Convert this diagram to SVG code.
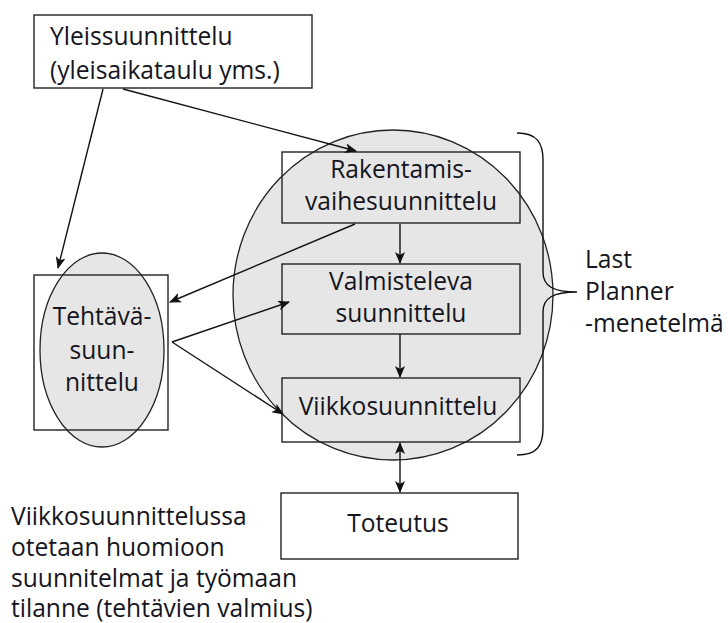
<svg xmlns="http://www.w3.org/2000/svg" width="728" height="623" viewBox="0 0 728 623">
<defs>
<marker id="ah" viewBox="0 0 12 10" refX="11" refY="5" markerWidth="12" markerHeight="10" markerUnits="userSpaceOnUse" orient="auto-start-reverse">
<path d="M0,0 L12,5 L0,10 L3,5 Z" fill="#111"/>
</marker>
</defs>
<style>
text{font-family:"Open Sans","Noto Sans","Liberation Sans",sans-serif;font-size:24.6px;fill:#151520}
.c{text-anchor:middle}
.box{fill:none;stroke:#222;stroke-width:1.4}
.wbox{fill:#fff;stroke:#222;stroke-width:1.4}
.sh{fill:#e6e6e6;stroke:#222;stroke-width:1.3}
.ln{fill:none;stroke:#111;stroke-width:1.4}
</style>
<rect width="728" height="623" fill="#fff"/>
<g id="lastplanner-circle"><ellipse class="sh" cx="393" cy="295" rx="160" ry="165"/></g>
<g id="yleis">
<rect class="wbox" x="34" y="15" width="278" height="73"/>
<text x="50" y="45">Yleissuunnittelu</text>
<text x="50" y="79">(yleisaikataulu yms.)</text>
</g>
<g id="tehtava">
<ellipse class="sh" cx="102" cy="350" rx="62" ry="97"/>
<rect class="box" x="34" y="275" width="134" height="155"/>
<text class="c" x="102" y="325">Tehtävä-</text>
<text class="c" x="102" y="359">suun-</text>
<text class="c" x="102" y="391">nittelu</text>
</g>
<g id="rakentamis">
<rect class="box" x="282" y="152" width="238" height="71"/>
<text class="c" x="401" y="178">Rakentamis-</text>
<text class="c" x="401" y="210">vaihesuunnittelu</text>
</g>
<g id="valmisteleva">
<rect class="box" x="282" y="264" width="238" height="70"/>
<text class="c" x="401" y="290">Valmisteleva</text>
<text class="c" x="401" y="322">suunnittelu</text>
</g>
<g id="viikko">
<rect class="box" x="282" y="378" width="238" height="64"/>
<text class="c" x="398" y="415">Viikkosuunnittelu</text>
</g>
<g id="toteutus">
<rect class="wbox" x="281" y="493" width="237" height="66"/>
<text class="c" x="398" y="532">Toteutus</text>
</g>
<g id="brace">
<path class="ln" d="M517,133 C537,133 543,143 543,160 L543,272 C543,286 553,292 577,292 C553,292 543,298 543,312 L543,428 C543,446 537,455 517,455"/>
<text x="585" y="268">Last</text>
<text x="585" y="300">Planner</text>
<text x="585" y="332">-menetelmä</text>
</g>
<g id="note">
<text x="11" y="525">Viikkosuunnittelussa</text>
<text x="11" y="556">otetaan huomioon</text>
<text x="11" y="587">suunnitelmat ja työmaan</text>
<text x="11" y="617">tilanne (tehtävien valmius)</text>
</g>
<g id="connectors">
<line class="ln" x1="103" y1="89" x2="58" y2="268" marker-end="url(#ah)"/>
<line class="ln" x1="123" y1="89" x2="356" y2="151" marker-end="url(#ah)"/>
<line class="ln" x1="355" y1="224" x2="170" y2="302" marker-end="url(#ah)"/>
<line class="ln" x1="172" y1="342" x2="289" y2="302" marker-end="url(#ah)"/>
<line class="ln" x1="172" y1="342" x2="283" y2="414" marker-end="url(#ah)"/>
<line class="ln" x1="400" y1="224" x2="400" y2="263" marker-end="url(#ah)"/>
<line class="ln" x1="400" y1="334" x2="400" y2="377" marker-end="url(#ah)"/>
<line class="ln" x1="400" y1="443" x2="400" y2="492" marker-start="url(#ah)" marker-end="url(#ah)"/>
</g>
</svg>
